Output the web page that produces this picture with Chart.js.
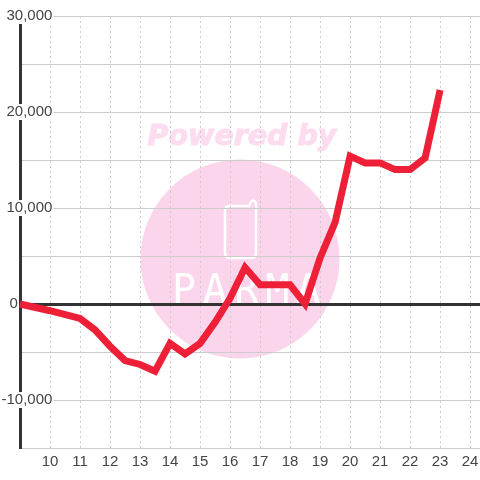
<!DOCTYPE html>
<html>
<head>
<meta charset="utf-8">
<style>
  html, body { margin: 0; padding: 0; background: #fff; }
  canvas { display: block; }
</style>
<script src="https://cdn.jsdelivr.net/npm/chart.js@4"></script>
</head>
<body>
<canvas id="chart" width="480" height="480"></canvas>
<script>
// values
const hours = [9, 10, 11, 11.5, 12, 12.5, 13, 13.5, 14, 14.5, 15, 15.5, 16, 16.5, 17, 18, 18.5, 19, 19.5, 20, 20.5, 21, 21.5, 22, 22.5, 23];
const profit = [0, -700, -1500, -2700, -4400, -5900, -6300, -7000, -4100, -5200, -4100, -1900, 600, 3800, 2000, 2000, 0, 4800, 8500, 15400, 14700, 14700, 14000, 14000, 15200, 22300];
const xTicksShown = [10, 11, 12, 13, 14, 15, 16, 17, 18, 19, 20, 21, 22, 23, 24];
const yLabelled = [30000, 20000, 10000, -10000];

const RED = '#ee2038';
const GRID = '#cccccc';
const DARK = '#333333';
const PINK = '#fbd5ec';

// the pink logo sits behind the grid
const watermark = {
    id: 'watermark',
    beforeDraw(chart) {
        const c = chart.ctx;
        c.save();
        c.fillStyle = PINK;
        c.beginPath();
        c.arc(240, 259, 99.5, 0, Math.PI * 2);
        c.fill();

        c.fillStyle = '#fcdcef';
        c.strokeStyle = '#fcdcef';
        c.lineWidth = 1;
        c.font = 'italic bold 28.5px "DejaVu Sans"';
        c.textAlign = 'center';
        c.textBaseline = 'alphabetic';
        c.fillText('Powered by', 242, 145);
        c.strokeText('Powered by', 242, 145);

        // phone outline
        c.strokeStyle = '#ffffff';
        c.lineWidth = 2.5;
        c.beginPath();
        c.moveTo(250, 206);
        c.lineTo(250, 203);
        c.quadraticCurveTo(253, 198, 256, 203);
        c.lineTo(256, 253);
        c.quadraticCurveTo(256, 258, 251, 258);
        c.lineTo(230, 258);
        c.quadraticCurveTo(225, 258, 225, 253);
        c.lineTo(225, 211);
        c.quadraticCurveTo(225, 206, 230, 206);
        c.lineTo(250, 206);
        c.stroke();

        c.fillStyle = '#ffffff';
        c.font = '40px "DejaVu Sans Mono"';
        c.textAlign = 'left';
        c.letterSpacing = '7px';
        c.fillText('PARMA', 172, 303);
        c.restore();
    }
};

new Chart(document.getElementById('chart'), {
    type: 'line',
    data: {
        labels: hours,
        datasets: [{
            data: hours.map((h, i) => ({ x: h, y: profit[i] })),
            borderColor: RED,
            borderWidth: 7,
            pointRadius: 0,
            tension: 0,
            clip: false
        }]
    },
    plugins: [watermark],
    options: {
        responsive: false,
        animation: false,
        layout: { padding: { top: 16 } },
        plugins: { legend: { display: false }, tooltip: { enabled: false } },
        scales: {
            x: {
                type: 'linear',
                min: 9,
                max: 24.33,
                afterFit: (s) => {
                    s.height = 32;
                    s.paddingLeft = 0;
                    s.paddingRight = 0;
                },
                border: { display: false, dash: [2, 3] },
                grid: {
                    color: (ctx) => ctx.tick && ctx.tick.value === 9 ? 'transparent' : GRID,
                    lineWidth: 1,
                    drawTicks: false
                },
                ticks: {
                    stepSize: 1,
                    includeBounds: false,
                    autoSkip: false,
                    maxRotation: 0,
                    padding: 5,
                    color: '#444444',
                    font: { family: '"Liberation Sans"', size: 15 },
                    callback: (v) => xTicksShown.includes(v) ? String(v) : ''
                }
            },
            y: {
                min: -15000,
                max: 30000,
                afterFit: (s) => { s.width = 20; },
                border: { display: true, color: DARK, width: 3 },
                grid: {
                    color: (ctx) => ctx.tick && ctx.tick.value === 0 ? DARK : GRID,
                    lineWidth: (ctx) => ctx.tick && ctx.tick.value === 0 ? 3 : 1,
                    drawTicks: false
                },
                ticks: {
                    stepSize: 5000,
                    autoSkip: false,
                    mirror: true,
                    crossAlign: 'far',
                    padding: -18.5,
                    color: '#444444',
                    font: { family: '"Liberation Sans"', size: 15 },
                    showLabelBackdrop: (ctx) => yLabelled.includes(ctx.tick.value),
                    backdropColor: '#ffffff',
                    backdropPadding: { x: 1, y: -1 },
                    callback: (v) => {
                        // the zero label sits left of the axis, so it is padded out
                        if (v === 0) return '0' + '\u00a0'.repeat(8) + '\u200a';
                        return yLabelled.includes(v) ? v.toLocaleString('en-US') : '';
                    }
                }
            }
        }
    }
});
</script>
</body>
</html>
